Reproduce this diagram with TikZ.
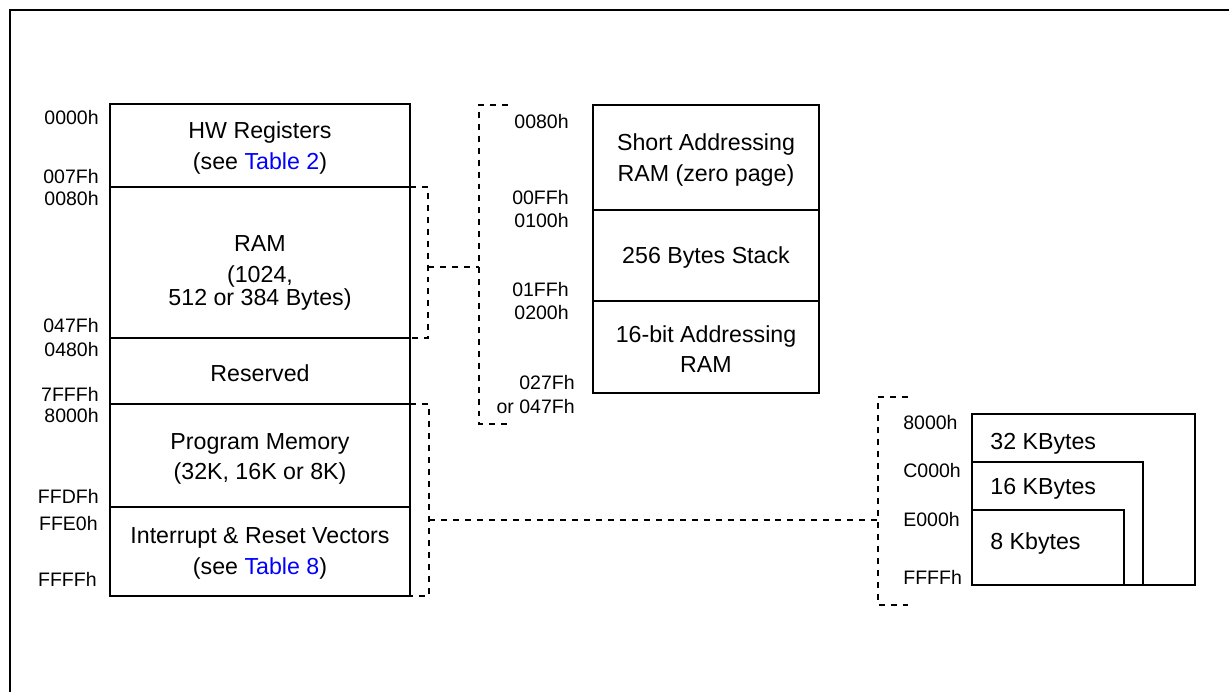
\documentclass[tikz,border=0pt]{standalone}
\usepackage{fontspec}
\setmainfont{Liberation Sans}
\tikzset{
  memline/.style={line width=1pt},
  link/.style={line width=1pt, dash pattern=on 3.4pt off 3.4pt},
  addr/.style={font=\fontsize{11.1}{13}\selectfont, inner sep=0pt},
  cell/.style={font=\fontsize{13.2}{17.5}\selectfont, align=center, inner sep=0pt},
}
\newcommand{\tabref}[1]{\textcolor{blue}{#1}}
\begin{document}
\begin{tikzpicture}[x=0.02cm,y=-0.02cm]
\useasboundingbox (0,0) rectangle (1229,692);
% frame (only top and left edges visible)
\draw[line width=1.2pt] (1229,10) -- (10,10) -- (10,692);

% main memory map
\draw[memline] (110,104) rectangle (410,596);
\foreach \y in {187,338,404,507}
  \draw[memline] (110,\y) -- (410,\y);
\node[cell] (hwreg) at (260,148) {HW Registers\\(see \tabref{Table 2})};
\node[cell] (ram) at (260,273) {RAM\\(1024,\\[-4pt]512 or 384 Bytes)};
\node[cell] (resv) at (260,373) {Reserved};
\node[cell] (prog) at (260,459) {Program Memory\\(32K, 16K or 8K)};
\node[cell] (vect) at (260,553) {Interrupt \& Reset Vectors\\(see \tabref{Table 8})};
\node[addr, anchor=east] (a0000) at (99,118) {0000h};
\node[addr, anchor=east] (a007F) at (99,177) {007Fh};
\node[addr, anchor=east] (a0080) at (99,199) {0080h};
\node[addr, anchor=east] (a047F) at (99,326) {047Fh};
\node[addr, anchor=east] (a0480) at (99,350) {0480h};
\node[addr, anchor=east] (a7FFF) at (99,394) {7FFFh};
\node[addr, anchor=east] (a8000) at (99,416) {8000h};
\node[addr, anchor=east] (aFFDF) at (99,496) {FFDFh};
\node[addr, anchor=east] (aFFE0) at (98,524) {FFE0h};
\node[addr, anchor=east] (aFFFF) at (97,579) {FFFFh};

% RAM detail
\draw[memline] (593,105) rectangle (819,393);
\draw[memline] (593,210) -- (819,210);
\draw[memline] (593,301) -- (819,301);
\node[cell] (zpage) at (706,160) {Short Addressing\\RAM (zero page)};
\node[cell] (stack) at (706,258) {256 Bytes Stack};
\node[cell] (wide) at (706,349) {16-bit Addressing\\RAM};
\node[addr, anchor=east] (r0080) at (569,122) {0080h};
\node[addr, anchor=east] (r00FF) at (569,198) {00FFh};
\node[addr, anchor=east] (r0100) at (569,221) {0100h};
\node[addr, anchor=east] (r01FF) at (569,290) {01FFh};
\node[addr, anchor=east] (r0200) at (569,313) {0200h};
\node[addr, anchor=east] (r027F) at (575,383) {027Fh};
\node[addr, anchor=east] (r047F) at (575,407) {or 047Fh};

% program memory detail
\draw[memline] (972,414) rectangle (1195,585);
\draw[memline] (972,462) -- (1143,462) -- (1143,585);
\draw[memline] (972,510) -- (1124,510) -- (1124,585);
\node[cell, anchor=west] (k32) at (990,444) {32 KBytes};
\node[cell, anchor=west] (k16) at (990,489) {16 KBytes};
\node[cell, anchor=west] (k8) at (990,543) {8 Kbytes};
\node[addr, anchor=west] (p8000) at (903,423) {8000h};
\node[addr, anchor=west] (pC000) at (903,471) {C000h};
\node[addr, anchor=west] (pE000) at (903,520) {E000h};
\node[addr, anchor=west] (pFFFF) at (903,577) {FFFFh};

% dashed brackets
\coordinate (ramtop) at (410,187);
\coordinate (rambot) at (410,338);
\coordinate (ramtip) at (428,267);
\coordinate (zoomA) at (479,267);
\coordinate (zoomAtop) at (508,105);
\coordinate (zoomAbot) at (508,424);
\coordinate (progtop) at (410,404);
\coordinate (progbot) at (410,596);
\coordinate (progtip) at (429,520);
\coordinate (zoomB) at (878,520);
\coordinate (zoomBtop) at (908,397);
\coordinate (zoomBbot) at (908,605);
\draw[link] (ramtop) -- (ramtop -| ramtip) -- (rambot -| ramtip) -- (rambot);
\draw[link] (ramtip) -- (zoomA);
\draw[link] (zoomAtop) -- (zoomAtop -| zoomA) -- (zoomAbot -| zoomA) -- (zoomAbot);
\draw[link] (progtop) -- (progtop -| progtip) -- (progbot -| progtip) -- (progbot);
\draw[link] (progtip) -- (zoomB);
\draw[link] (zoomBtop) -- (zoomBtop -| zoomB) -- (zoomBbot -| zoomB) -- (zoomBbot);
\end{tikzpicture}
\end{document}
